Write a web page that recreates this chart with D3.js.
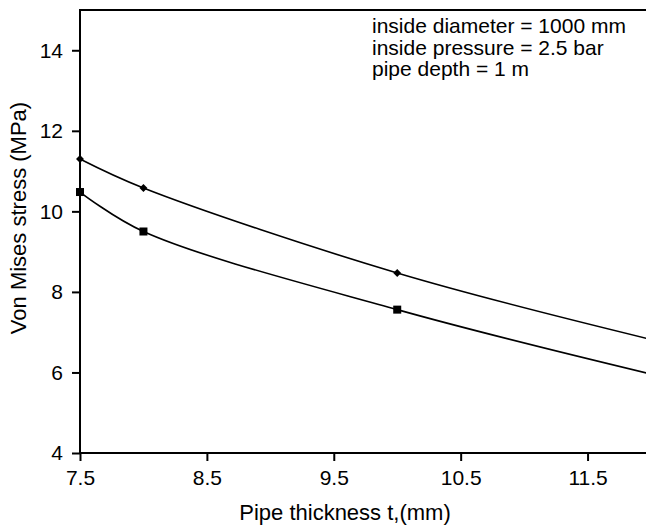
<!DOCTYPE html>
<html>
<head>
<meta charset="utf-8">
<script src="https://cdn.jsdelivr.net/npm/d3@7"></script>
<style>
  body { margin: 0; background: #fff; }
  svg { display: block; font-family: "Liberation Sans", Arial, sans-serif; }
  .tick text { font-size: 21px; font-family: "Liberation Sans", Arial, sans-serif; }
</style>
</head>
<body>
<svg id="chart"></svg>
<script>
// pipe thickness (mm)
const thickness = [7.5, 8, 10, 12];
// von mises stress (MPa)
const stressUpper = [11.3, 10.58, 8.47, 6.82];
const stressLower = [10.48, 9.5, 7.56, 5.96];
const xTicks = [7.5, 8.5, 9.5, 10.5, 11.5];
const yTicks = [4, 6, 8, 10, 12, 14];
const notes = ["inside diameter = 1000 mm", "inside pressure = 2.5 bar", "pipe depth = 1 m"];

const width = 646, height = 529;
const svg = d3.select("#chart").attr("width", width).attr("height", height);

const x = d3.scaleLinear().domain([7.5, 12]).range([80, 651]);
const y = d3.scaleLinear().domain([4, 15]).range([453, 10]);

// axes
const xAxis = svg.append("g")
    .attr("transform", `translate(0,${y(4)})`)
    .call(d3.axisBottom(x).tickValues(xTicks).tickSize(8).tickPadding(9).tickFormat(d3.format(".1f")));
const yAxis = svg.append("g")
    .attr("transform", `translate(${x(7.5)},0)`)
    .call(d3.axisLeft(y).tickValues(yTicks).tickSize(8).tickPadding(9));

[xAxis, yAxis].forEach(a => {
    a.attr("font-size", 21).attr("font-family", "'Liberation Sans', Arial, sans-serif");
    a.select(".domain").remove();
    a.selectAll(".tick line").attr("stroke", "#000").attr("stroke-width", 2);
    a.selectAll(".tick text").attr("fill", "#000");
});

// frame: left, bottom, top
svg.append("path")
    .attr("d", `M${x(12)},${y(15)}H${x(7.5)}V${y(4)}H${x(12)}`)
    .attr("fill", "none").attr("stroke", "#000").attr("stroke-width", 2);

// series
const line = d3.line()
    .x((d, i) => x(thickness[i]))
    .y(d => y(d))
    .curve(d3.curveCatmullRom.alpha(0.5));

[stressUpper, stressLower].forEach(s => {
    svg.append("path").datum(s)
        .attr("d", line)
        .attr("fill", "none").attr("stroke", "#000").attr("stroke-width", 1.6);
});

svg.append("g").selectAll("path")
    .data(stressUpper)
    .join("path")
    .attr("transform", (d, i) => `translate(${x(thickness[i])},${y(d)})`)
    .attr("d", d3.symbol(d3.symbolDiamond2, 40))
    .attr("fill", "#000");

svg.append("g").selectAll("rect")
    .data(stressLower)
    .join("rect")
    .attr("x", (d, i) => x(thickness[i]) - 4)
    .attr("y", d => y(d) - 4)
    .attr("width", 8).attr("height", 8)
    .attr("fill", "#000");

// labels
svg.append("text")
    .attr("x", 345).attr("y", 520)
    .attr("text-anchor", "middle").style("font-size", "22px")
    .text("Pipe thickness t,(mm)");

svg.append("text")
    .attr("transform", "translate(26,218) rotate(-90)")
    .attr("text-anchor", "middle").style("font-size", "22px")
    .text("Von Mises stress (MPa)");

svg.append("g").selectAll("text")
    .data(notes)
    .join("text")
    .attr("x", 372)
    .attr("y", (d, i) => 33 + i * 21.5)
    .style("font-size", "21px")
    .text(d => d);
</script>
</body>
</html>
